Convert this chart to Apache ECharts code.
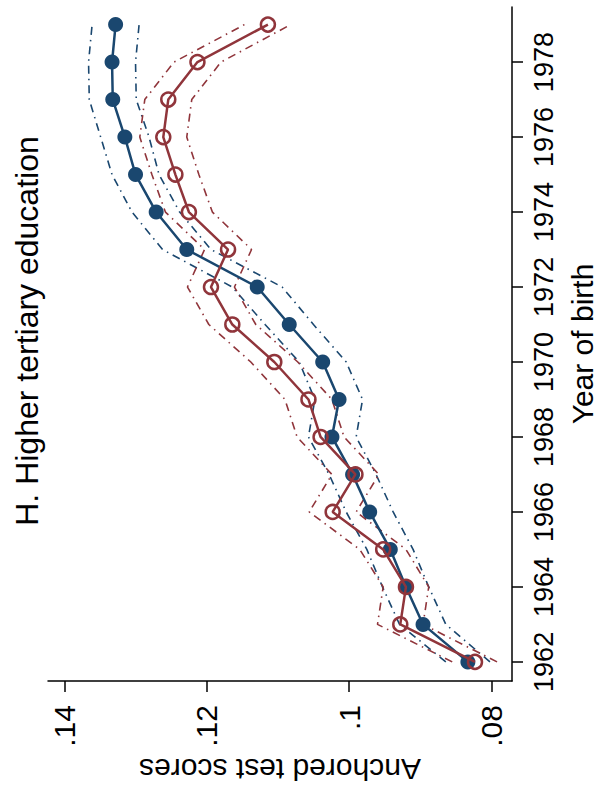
<!DOCTYPE html>
<html>
<head>
<meta charset="utf-8">
<script src="https://cdn.jsdelivr.net/npm/echarts@6/dist/echarts.min.js"></script>
<style>
  html, body { margin: 0; padding: 0; background: #fff; }
  #chart { width: 605px; height: 793px; }
</style>
</head>
<body>
<div id="chart"></div>
<script>
// Birth cohorts
const years = [1962, 1963, 1964, 1965, 1966, 1967, 1968, 1969, 1970,
               1971, 1972, 1973, 1974, 1975, 1976, 1977, 1978, 1979];

// Navy series (filled markers): point estimate and confidence bounds
const navyMean = [0.0833, 0.0896, 0.0920, 0.0942, 0.0971, 0.0995, 0.1024, 0.1014, 0.1037,
                  0.1084, 0.1129, 0.1228, 0.1271, 0.1300, 0.1315, 0.1332, 0.1333, 0.1328];
const navyLow  = [0.0802, 0.0864, 0.0888, 0.0910, 0.0938, 0.0962, 0.0990, 0.0981, 0.1004,
                  0.1050, 0.1094, 0.1194, 0.1238, 0.1267, 0.1281, 0.1299, 0.1300, 0.1295];
const navyHigh = [0.0864, 0.0929, 0.0953, 0.0975, 0.1004, 0.1028, 0.1057, 0.1048, 0.1070,
                  0.1118, 0.1164, 0.1262, 0.1305, 0.1333, 0.1349, 0.1365, 0.1366, 0.1361];

// Maroon series (hollow markers): point estimate and confidence bounds
const maroonMean = [0.0823, 0.0928, 0.0920, 0.0952, 0.1023, 0.0991, 0.1040, 0.1057, 0.1105,
                    0.1164, 0.1194, 0.1170, 0.1225, 0.1244, 0.1261, 0.1254, 0.1213, 0.1114];
const maroonLow  = [0.0792, 0.0896, 0.0888, 0.0920, 0.0990, 0.0958, 0.1007, 0.1024, 0.1072,
                    0.1131, 0.1161, 0.1137, 0.1192, 0.1211, 0.1228, 0.1221, 0.1180, 0.1082];
const maroonHigh = [0.0855, 0.0960, 0.0952, 0.0985, 0.1056, 0.1024, 0.1073, 0.1090, 0.1138,
                    0.1197, 0.1227, 0.1203, 0.1258, 0.1277, 0.1294, 0.1287, 0.1246, 0.1147];

// Axis ticks
const yearTicks  = [1962, 1964, 1966, 1968, 1970, 1972, 1974, 1976, 1978];
const scoreTicks = [0.08, 0.10, 0.12, 0.14];

const NAVY = '#1a476f';
const MAROON = '#90353b';
const FONT = '"Liberation Sans", Arial, Helvetica, sans-serif';
const DASH_DOT = [8, 5, 1.5, 5];

const pairs = (vals) => years.map((y, i) => [vals[i], y]);
const scoreLabel = (v) => String(+Number(v).toFixed(2)).replace(/^0/, '');
const yearLabel = (v) => String(Math.round(v));

function bandLine(name, vals, color) {
  return {
    name: name, type: 'line', data: pairs(vals), symbol: 'none', silent: true,
    lineStyle: { color: color, width: 1.6, type: DASH_DOT }, z: 2
  };
}

const chart = echarts.init(document.getElementById('chart'), null, { renderer: 'svg' });

chart.setOption({
  animation: false,
  backgroundColor: '#ffffff',
  textStyle: { fontFamily: FONT },
  grid: { left: 48, right: 78, top: 7, bottom: 112, containLabel: false },
  xAxis: {
    type: 'value', inverse: true, min: 0.0771, max: 0.1423,
    position: 'bottom',
    name: 'Anchored test scores', nameLocation: 'middle', nameGap: 68, nameRotate: 180,
    nameTextStyle: { fontSize: 30, color: '#000', fontFamily: FONT },
    axisLine: { show: true, lineStyle: { color: '#000', width: 1.5 } },
    axisTick: { show: true, length: 11, lineStyle: { color: '#000', width: 1.5 }, customValues: scoreTicks },
    axisLabel: { rotate: 90, margin: 24, fontSize: 30, color: '#000', fontFamily: FONT,
                 customValues: scoreTicks, formatter: scoreLabel },
    splitLine: { show: false }
  },
  yAxis: {
    type: 'value', min: 1961.49, max: 1979.47, position: 'right',
    name: 'Year of birth', nameLocation: 'middle', nameGap: 55, nameRotate: 90,
    nameTextStyle: { fontSize: 30, color: '#000', fontFamily: FONT },
    axisLine: { show: true, onZero: false, lineStyle: { color: '#000', width: 1.5 } },
    axisTick: { show: true, length: 11, lineStyle: { color: '#000', width: 1.5 }, customValues: yearTicks },
    axisLabel: { rotate: 90, margin: 18, fontSize: 27, color: '#000', fontFamily: FONT,
                 customValues: yearTicks, formatter: yearLabel },
    splitLine: { show: false }
  },
  graphic: [{
    type: 'text', x: 27, y: 331, rotation: Math.PI / 2,
    style: { text: 'H. Higher tertiary education', fontSize: 32, fontFamily: FONT,
             fill: '#000', align: 'center', verticalAlign: 'middle' }
  }],
  series: [
    bandLine('navy upper', navyHigh, NAVY),
    bandLine('navy lower', navyLow, NAVY),
    bandLine('maroon upper', maroonHigh, MAROON),
    bandLine('maroon lower', maroonLow, MAROON),
    {
      name: 'navy', type: 'line', data: pairs(navyMean), z: 3,
      symbol: 'circle', symbolSize: 15,
      itemStyle: { color: NAVY },
      lineStyle: { color: NAVY, width: 2.5 }
    },
    {
      name: 'maroon', type: 'line', data: pairs(maroonMean), z: 4,
      symbol: 'circle', symbolSize: 14,
      itemStyle: { color: 'rgba(255,255,255,0)', borderColor: MAROON, borderWidth: 2.5 },
      lineStyle: { color: MAROON, width: 2.5 }
    }
  ]
});
</script>
</body>
</html>
